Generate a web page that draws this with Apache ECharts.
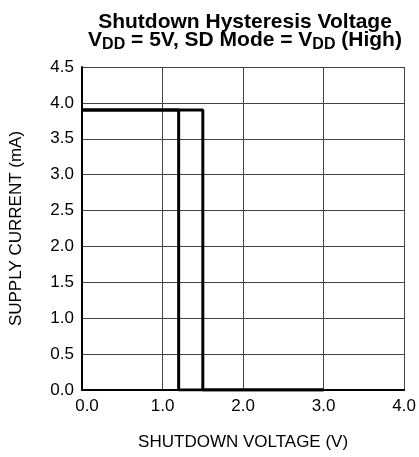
<!DOCTYPE html>
<html>
<head>
<meta charset="utf-8">
<script src="https://cdn.jsdelivr.net/npm/echarts@6/dist/echarts.min.js"></script>
<style>html,body{margin:0;padding:0;background:#fff;}#c{width:419px;height:457px;}</style>
</head>
<body>
<div id="c"></div>
<script>
// Turn-off path (rising shutdown voltage)
const offX = [0.0, 1.5, 1.5, 3.0];
const offY = [3.9, 3.9, 0.0, 0.0];
// Turn-on path (falling shutdown voltage)
const onX = [3.0, 1.2, 1.2, 0.0];
const onY = [0.0, 0.0, 3.9, 3.9];
const xTicks = [0, 1, 2, 3, 4];
const yTicks = [0, 0.5, 1, 1.5, 2, 2.5, 3, 3.5, 4, 4.5];

const font = 'Liberation Sans, Arial, sans-serif';
const chart = echarts.init(document.getElementById('c'));
const zip = (xs, ys) => xs.map((x, i) => [x, ys[i]]);
chart.setOption({
  animation: false,
  title: {
    text: 'Shutdown Hysteresis Voltage\nV{sub|DD} = 5V, SD Mode = V{sub|DD} (High)',
    left: 240, top: 8, textAlign: 'center',
    textStyle: {
      fontFamily: font, fontSize: 21, fontWeight: 'bold', color: '#000', lineHeight: 18,
      rich: { sub: { fontFamily: font, fontSize: 16, fontWeight: 'bold', color: '#000', padding: [9, 0, 0, 0], lineHeight: 18 } }
    }
  },
  grid: { left: 81, right: 14, top: 67, bottom: 67, containLabel: false },
  xAxis: {
    type: 'value', min: 0, max: 4, interval: 1,
    name: 'SHUTDOWN VOLTAGE (V)', nameLocation: 'middle', nameGap: 44,
    nameTextStyle: { fontFamily: font, fontSize: 17, color: '#000' },
    axisLine: { show: true, lineStyle: { color: '#000', width: 2 } },
    axisTick: { show: false },
    axisLabel: {
      fontFamily: font, fontSize: 17, color: '#000', margin: 8,
      formatter: v => v === xTicks[0] ? '{first|' + v.toFixed(1) + '}' : v.toFixed(1),
      rich: { first: { fontFamily: font, fontSize: 17, color: '#000', padding: [0, 0, 0, 10] } }
    },
    splitLine: { show: true, lineStyle: { color: '#444', width: 1 } }
  },
  yAxis: {
    type: 'value', min: 0, max: 4.5, interval: 0.5,
    name: 'SUPPLY CURRENT (mA)', nameLocation: 'middle', nameGap: 57,
    nameTextStyle: { fontFamily: font, fontSize: 17, color: '#000' },
    axisLine: { show: true, lineStyle: { color: '#000', width: 2 } },
    axisTick: { show: false },
    axisLabel: { fontFamily: font, fontSize: 17, color: '#000', margin: 8, formatter: v => v.toFixed(1) },
    splitLine: { show: true, lineStyle: { color: '#444', width: 1 } }
  },
  series: [
    { type: 'line', data: zip(offX, offY), symbol: 'none', lineStyle: { color: '#000', width: 3 }, z: 5 },
    { type: 'line', data: zip(onX, onY), symbol: 'none', lineStyle: { color: '#000', width: 3 }, z: 5 }
  ]
});
</script>
</body>
</html>
